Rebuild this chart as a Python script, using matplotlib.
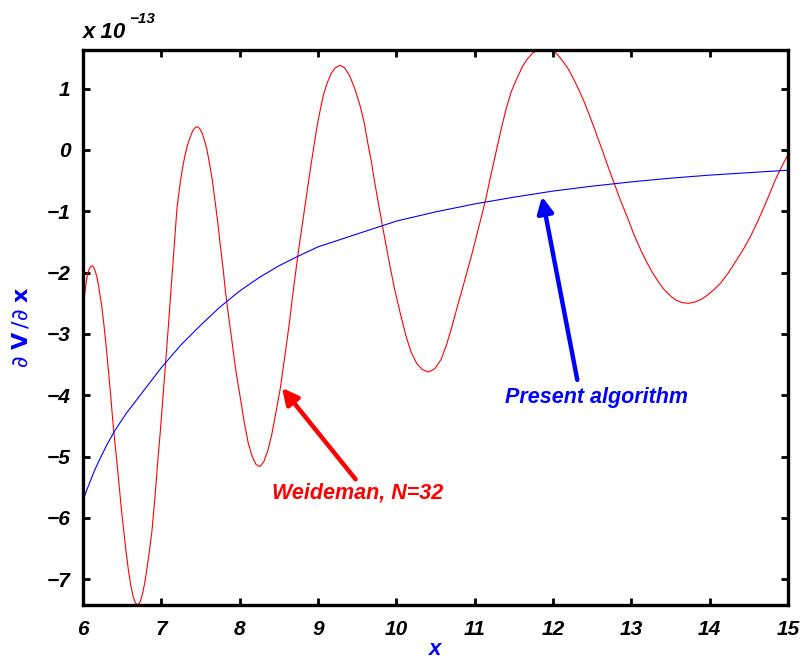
import matplotlib
matplotlib.use('Agg')
import matplotlib.pyplot as plt

# red curve (Weideman, N=32), values in units of 1e-13
red_x = [6.00, 6.02, 6.04, 6.06, 6.08, 6.10, 6.12, 6.14, 6.16, 6.18, 6.20, 6.22, 6.24, 6.27,
         6.30, 6.35, 6.39, 6.43, 6.46, 6.49, 6.52, 6.55, 6.58, 6.61, 6.64, 6.67, 6.70,
         6.73, 6.76, 6.79, 6.82, 6.85, 6.88, 6.92, 6.95, 6.99, 7.02, 7.05, 7.08, 7.11, 7.14,
         7.17, 7.20, 7.24, 7.27, 7.30, 7.33, 7.36, 7.40, 7.43, 7.46, 7.49, 7.52, 7.55, 7.58,
         7.61, 7.65, 7.68, 7.72, 7.75, 7.79, 7.82, 7.86, 7.90, 7.93, 7.97, 8.01, 8.06, 8.11,
         8.16, 8.21, 8.26, 8.31, 8.36, 8.41, 8.46, 8.52, 8.56, 8.60, 8.64, 8.67, 8.71, 8.75,
         8.79, 8.83, 8.87, 8.91, 8.95, 8.99, 9.03, 9.07, 9.12, 9.17, 9.22, 9.28, 9.34, 9.40,
         9.47, 9.54, 9.59, 9.63, 9.68, 9.72, 9.77, 9.82, 9.87, 9.92, 9.98, 10.05, 10.12, 10.19,
         10.26, 10.33, 10.41, 10.49, 10.57, 10.64, 10.71, 10.78, 10.84, 10.90, 10.96, 11.02,
         11.08, 11.14, 11.20, 11.27, 11.34, 11.41, 11.47, 11.54, 11.61, 11.67, 11.74, 11.80,
         11.87, 11.93, 12.00, 12.06, 12.13, 12.20, 12.27, 12.33, 12.40, 12.46, 12.52, 12.58,
         12.65, 12.71, 12.78, 12.86, 12.95, 13.03, 13.12, 13.20, 13.27, 13.35, 13.42, 13.50,
         13.57, 13.65, 13.73, 13.81, 13.90, 13.98, 14.06, 14.14, 14.24, 14.33, 14.43, 14.52,
         14.60, 14.67, 14.75, 14.82, 14.87, 14.92, 14.96, 15.00]
red_y = [-2.65, -2.38, -2.16, -2.02, -1.94, -1.90, -1.89, -1.92, -1.99, -2.08, -2.22, -2.38, -2.55, -2.88,
         -3.25, -3.95, -4.55, -5.05, -5.45, -5.85, -6.20, -6.55, -6.85, -7.10, -7.28, -7.39, -7.42,
         -7.37, -7.24, -7.05, -6.80, -6.52, -6.22, -5.65, -5.15, -4.55, -4.05, -3.55, -3.05, -2.52, -2.00,
         -1.45, -0.95, -0.55, -0.30, -0.10, 0.06, 0.18, 0.31, 0.36, 0.38, 0.35, 0.28, 0.16, 0.02,
         -0.18, -0.48, -0.78, -1.17, -1.52, -1.95, -2.32, -2.72, -3.10, -3.40, -3.75, -4.05, -4.45, -4.78,
         -5.00, -5.13, -5.16, -5.08, -4.90, -4.64, -4.30, -3.88, -3.52, -3.15, -2.77, -2.44, -2.05, -1.65,
         -1.30, -0.95, -0.60, -0.25, 0.08, 0.40, 0.66, 0.90, 1.10, 1.25, 1.34, 1.38, 1.34, 1.22,
         1.00, 0.71, 0.45, 0.15, -0.18, -0.50, -0.86, -1.22, -1.56, -1.90, -2.28, -2.66, -3.02, -3.30,
         -3.48, -3.58, -3.62, -3.57, -3.42, -3.18, -2.88, -2.55, -2.28, -2.00, -1.72, -1.42,
         -1.12, -0.81, -0.45, -0.05, 0.35, 0.71, 0.96, 1.17, 1.36, 1.48, 1.58, 1.63,
         1.66, 1.66, 1.62, 1.55, 1.44, 1.31, 1.14, 0.98, 0.78, 0.58, 0.38, 0.17,
         -0.08, -0.30, -0.54, -0.82, -1.10, -1.37, -1.63, -1.84, -2.00, -2.16, -2.28, -2.38,
         -2.45, -2.49, -2.50, -2.48, -2.43, -2.36, -2.27, -2.17, -2.00, -1.82, -1.62, -1.41,
         -1.20, -1.00, -0.76, -0.54, -0.40, -0.27, -0.17, -0.08]

# blue curve (present algorithm)
blue_x = [6.0, 6.05, 6.1, 6.15, 6.2, 6.3, 6.4, 6.55, 6.7, 6.85, 7.0, 7.25, 7.5, 7.75, 8.0, 8.25,
          8.5, 8.75, 9.0, 9.5, 10.0, 10.5, 11.0, 11.5, 12.0, 12.5, 13.0, 13.5, 14.0, 14.5, 15.0]
blue_y = [-5.72, -5.54, -5.38, -5.22, -5.08, -4.82, -4.59, -4.30, -4.05, -3.80, -3.55, -3.18, -2.86,
          -2.56, -2.30, -2.08, -1.89, -1.73, -1.58, -1.37, -1.16, -1.01, -0.88, -0.77, -0.67,
          -0.59, -0.52, -0.46, -0.41, -0.37, -0.33]

xticks = [6, 7, 8, 9, 10, 11, 12, 13, 14, 15]
yticks = [-7, -6, -5, -4, -3, -2, -1, 0, 1]

plt.rcParams['font.family'] = ['Liberation Sans', 'DejaVu Sans']
plt.rcParams['mathtext.fontset'] = 'dejavusans'

fig = plt.figure(figsize=(8.07, 6.66), dpi=100)
ax = fig.add_axes([0.1028, 0.0916, 0.8737, 0.8333])

ax.plot(red_x, red_y, color='#ff0000', lw=0.8)
ax.plot(blue_x, blue_y, color='#0000ff', lw=0.8)

ax.set_xlim(6, 15)
ax.set_ylim(-7.42, 1.63)
ax.set_xticks(xticks)
ax.set_yticks(yticks)
ax.set_xticklabels([str(t) for t in xticks], fontsize=15, fontweight='bold', style='italic')
ax.set_yticklabels([str(t).replace('-', '\u2212') for t in yticks], fontsize=15,
                   fontweight='bold', style='italic')
ax.tick_params(axis='x', direction='in', length=5, width=2, top=True, pad=11)
ax.tick_params(axis='y', direction='in', length=5, width=2, right=True, pad=9)
for s in ax.spines.values():
    s.set_linewidth(2.4)

ax.set_xlabel('x', color='#0000ff', fontsize=16, fontweight='bold', style='italic', labelpad=0)
ax.set_ylabel(r'$\partial\ \mathbf{V}\,/\partial\ \mathbf{x}$', color='#0000ff', fontsize=16, labelpad=10)

# offset text
fig.text(83 / 807, 1 - 38 / 666, 'x 10', fontsize=16, fontweight='bold', style='italic',
         ha='left', va='baseline')
fig.text(129 / 807, 1 - 23 / 666, '\u221213', fontsize=11, fontweight='bold', style='italic',
         ha='left', va='baseline')

ax.annotate('', xy=(8.54, -3.88), xytext=(9.48, -5.37),
            arrowprops=dict(arrowstyle='-|>', color='#ff0000', lw=3.2, mutation_scale=24,
                            shrinkA=0, shrinkB=0))
ax.text(9.50, -5.59, 'Weideman, N=32', color='#ff0000', fontsize=15.5, fontweight='bold',
        style='italic', ha='center', va='center')

ax.annotate('', xy=(11.86, -0.76), xytext=(12.31, -3.75),
            arrowprops=dict(arrowstyle='-|>', color='#0000ff', lw=3.2, mutation_scale=24,
                            shrinkA=0, shrinkB=0))
ax.text(12.56, -4.04, 'Present algorithm', color='#0000ff', fontsize=15.5, fontweight='bold',
        style='italic', ha='center', va='center')

fig.savefig('out.png', dpi=100)
